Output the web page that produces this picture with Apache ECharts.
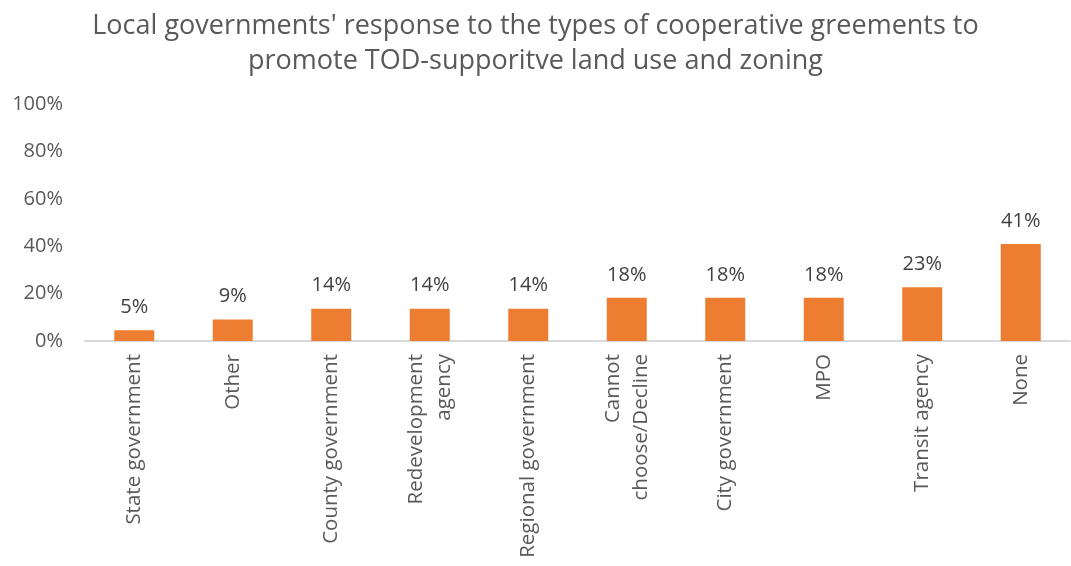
<!DOCTYPE html>
<html><head><meta charset="utf-8">
<script src="https://cdn.jsdelivr.net/npm/echarts@6/dist/echarts.min.js"></script>
<style>html,body{margin:0;padding:0;background:#fff}#c{width:1071px;height:566px}</style>
</head><body><div id="c"></div>
<script>
const categories = ['State government','Other','County government','Redevelopment\nagency','Regional government','Cannot\nchoose/Decline','City government','MPO','Transit agency','None'];
const values = [4.5, 9.1, 13.6, 13.6, 13.6, 18.2, 18.2, 18.2, 22.7, 40.9];
const titleText = "Local governments' response to the types of cooperative greements to\npromote TOD-supporitve land use and zoning";
const FONT = 'Open Sans';
const chart = echarts.init(document.getElementById('c'));
chart.setOption({
  animation: false,
  title: {
    text: titleText, left: 'center', top: 4,
    textStyle: {fontFamily: FONT, fontSize: 27, fontWeight: 'normal', color: '#595959', lineHeight: 35}
  },
  grid: {left: 85, right: 1, top: 104, bottom: 225, containLabel: false},
  xAxis: {
    type: 'category', data: categories,
    axisLine: {lineStyle: {color: '#d9d9d9', width: 2}},
    axisTick: {show: false},
    axisLabel: {rotate: 90, interval: 0, margin: 13, fontFamily: FONT, fontSize: 20.5, color: '#595959', lineHeight: 28}
  },
  yAxis: {
    type: 'value', min: 0, max: 100, interval: 20,
    splitLine: {show: false}, axisLine: {show: false}, axisTick: {show: false},
    axisLabel: {formatter: '{value}%', margin: 22, fontFamily: FONT, fontSize: 20, color: '#595959'}
  },
  series: [{
    type: 'bar', data: values, barWidth: 40,
    itemStyle: {color: '#ed7d31'},
    label: {show: true, position: 'top', distance: 13, fontFamily: FONT, fontSize: 20, color: '#404040',
      formatter: p => Math.round(p.value) + '%'}
  }]
});
</script></body></html>
